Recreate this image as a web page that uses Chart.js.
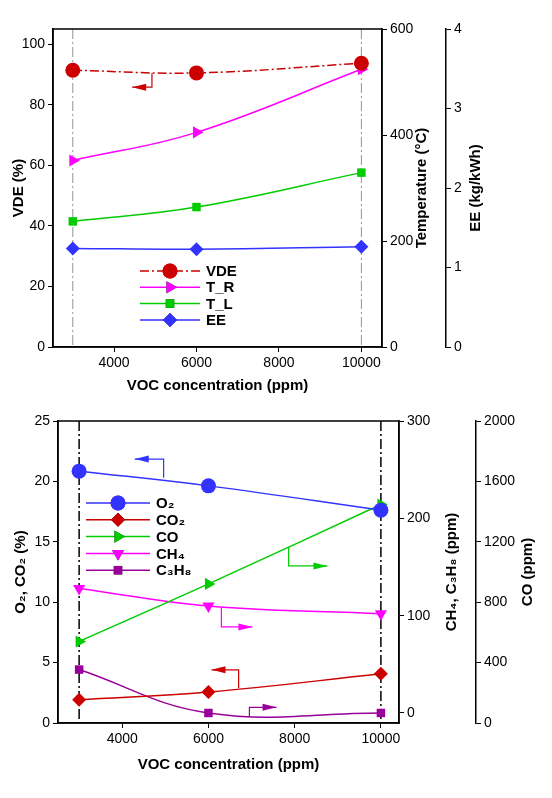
<!DOCTYPE html>
<html>
<head>
<meta charset="utf-8">
<script src="https://cdn.jsdelivr.net/npm/chart.js@4"></script>
<style>
  body { margin: 0; background: #fff; }
  .panel { position: absolute; left: 0; width: 552px; }
</style>
</head>
<body>
<div class="panel" style="top:0;height:405px"><canvas id="top"></canvas></div>
<div class="panel" style="top:405px;height:393px"><canvas id="bottom"></canvas></div>
<script>
// VOC concentration (ppm)
const vocPpm = [3000, 6000, 10000];
const xTicks = [4000, 6000, 8000, 10000];

// top panel
const vde = [91.4, 90.5, 93.7];     // %
const tR = [352, 405, 524];         // °C
const tL = [237, 264, 329];         // °C
const ee = [1.24, 1.23, 1.26];      // kg/kWh

// bottom panel
const o2 = [20.85, 19.63, 17.62];   // %
const co2 = [1.93, 2.56, 4.07];     // %
const co = [540, 921, 1447];        // ppm
const ch4 = [128, 110, 102];        // ppm
const c3h8 = [44.6, 0, 0];          // ppm

const FONT = "'Liberation Sans', Arial, sans-serif";
Chart.defaults.font.family = FONT;
Chart.defaults.color = "#000";

const pts = vals => vals.map((v, i) => ({ x: vocPpm[i], y: v }));

function series(label, vals, color, axis, style, extra) {
  return Object.assign({
    label, data: pts(vals), yAxisID: axis,
    borderColor: color, backgroundColor: color,
    borderWidth: 1.5, tension: 0.4,
    pointStyle: style, pointRadius: 7, pointBorderWidth: 0,
  }, extra || {});
}

function fixTicks(list) {
  return scale => { scale.ticks = list.map(v => ({ value: v })); };
}

function yAxis(pos, min, max, ticks, width) {
  return {
    type: "linear", position: pos, min, max,
    afterBuildTicks: fixTicks(ticks),
    afterFit: s => { s.width = width; },
    grid: { drawOnChartArea: false, color: "#000", tickLength: 5 },
    border: { color: "#000", width: 1.5 },
    ticks: { font: { size: 14 }, padding: 3, callback: v => String(v) },
  };
}

function xAxis(min, max, height) {
  return {
    type: "linear", min, max,
    afterBuildTicks: fixTicks(xTicks),
    afterFit: s => { s.height = height; },
    grid: { drawOnChartArea: false, color: "#000", tickLength: 5 },
    border: { color: "#000", width: 1.5 },
    ticks: { font: { size: 14 }, maxRotation: 0, callback: v => String(v) },
    title: { display: true, text: "VOC concentration (ppm)", font: { size: 15, weight: "bold" }, padding: { top: 12 } },
  };
}

// box, guide lines, arrows, axis titles and legend drawn on top of the chart
const decor = {
  id: "decor",
  beforeDatasetsDraw(chart, args, opts) {
    const { ctx, chartArea: a, scales } = chart;
    ctx.save();
    ctx.strokeStyle = opts.guideColor;
    ctx.lineWidth = opts.guideWidth;
    ctx.setLineDash([10, 3, 2, 3]);
    vocPpm.filter(v => v !== 6000).forEach(v => {
      const x = scales.x.getPixelForValue(v);
      ctx.beginPath(); ctx.moveTo(x, a.top); ctx.lineTo(x, a.bottom); ctx.stroke();
    });
    ctx.restore();
  },
  afterDraw(chart, args, opts) {
    const { ctx, chartArea: a, scales } = chart;
    ctx.save();
    ctx.strokeStyle = "#000"; ctx.lineWidth = 1.5;
    ctx.strokeRect(a.left, a.top, a.right - a.left, a.bottom - a.top);

    // vertical axis titles, read bottom to top
    ctx.fillStyle = "#000";
    ctx.font = "bold 15px " + FONT;
    ctx.textAlign = "center"; ctx.textBaseline = "middle";
    opts.titles.forEach(t => {
      ctx.save();
      ctx.translate(t.x, (a.top + a.bottom) / 2);
      ctx.rotate(-Math.PI / 2);
      ctx.fillText(t.text, 0, 0);
      ctx.restore();
    });
    ctx.textAlign = "left";

    opts.arrows.forEach(ar => {
      const p = ar.path.map(([x, y]) => [scales.x.getPixelForValue(x), scales[ar.axis].getPixelForValue(y)]);
      ctx.strokeStyle = ar.color; ctx.fillStyle = ar.color; ctx.lineWidth = 1.2;
      ctx.beginPath(); ctx.moveTo(p[0][0], p[0][1]);
      p.slice(1).forEach(q => ctx.lineTo(q[0], q[1]));
      ctx.stroke();
      const [ex, ey] = p[p.length - 1], [sx] = p[p.length - 2];
      const d = ex < sx ? 1 : -1;
      ctx.beginPath(); ctx.moveTo(ex, ey);
      ctx.lineTo(ex + d * 14, ey - 3.5); ctx.lineTo(ex + d * 14, ey + 3.5);
      ctx.closePath(); ctx.fill();
    });

    const L = opts.legend;
    chart.data.datasets.forEach((ds, i) => {
      const y = L.y + i * L.gap;
      ctx.strokeStyle = ds.borderColor; ctx.lineWidth = 1.5;
      ctx.setLineDash(ds.borderDash || []);
      ctx.beginPath(); ctx.moveTo(L.x, y); ctx.lineTo(L.x + L.len, y); ctx.stroke();
      ctx.setLineDash([]);
      Chart.helpers.drawPoint(ctx, {
        pointStyle: ds.pointStyle, rotation: ds.rotation || 0,
        radius: ds.pointRadius, borderWidth: 0,
      }, L.x + L.len / 2, y);
      ctx.fillStyle = ds.borderColor;
      ctx.fill();
      ctx.fillStyle = "#000";
      ctx.font = "bold 15px " + FONT;
      ctx.textBaseline = "middle";
      ctx.fillText(ds.label, L.x + L.len + 6, y + 1);
    });
    ctx.restore();
  }
};

new Chart(document.getElementById("top"), {
  type: "line",
  data: {
    datasets: [
      series("VDE", vde, "#cc0000", "y", "circle", { borderDash: [9, 3, 2, 3], pointRadius: 7.5 }),
      series("T_R", tR, "#ff00ff", "y2", "triangle", { rotation: 90 }),
      series("T_L", tL, "#00cc00", "y2", "rect", { pointRadius: 6 }),
      series("EE", ee, "#3333ff", "y3", "rectRot"),
    ]
  },
  options: {
    responsive: true, maintainAspectRatio: false, animation: false,
    layout: { padding: { left: 8, right: 56, top: 29, bottom: 6 } },
    plugins: {
      legend: { display: false }, tooltip: { enabled: false },
      decor: {
        guideColor: "#777", guideWidth: 0.8,
        legend: { x: 140, y: 271, gap: 16.3, len: 60 },
        titles: [
          { x: 19, text: "VDE (%)" },
          { x: 422, text: "Temperature (°C)" },
          { x: 476, text: "EE (kg/kWh)" },
        ],
        arrows: [{ axis: "y", color: "#cc0000", path: [[4920, 90.4], [4920, 85.8], [4440, 85.8]] }],
      },
    },
    scales: {
      x: xAxis(2520, 10500, 52),
      y: yAxis("left", 0, 105, [0, 20, 40, 60, 80, 100], 45),
      y2: yAxis("right", 0, 600, [0, 200, 400, 600], 64),
      y3: yAxis("right", 0, 4, [0, 1, 2, 3, 4], 50),
    }
  },
  plugins: [decor]
});

new Chart(document.getElementById("bottom"), {
  type: "line",
  data: {
    datasets: [
      series("O₂", o2, "#3333ff", "y", "circle", { pointRadius: 7.5 }),
      series("CO₂", co2, "#cc0000", "y", "rectRot"),
      series("CO", co, "#00cc00", "y3", "triangle", { rotation: 90 }),
      series("CH₄", ch4, "#ff00ff", "y2", "triangle", { rotation: 180 }),
      series("C₃H₈", c3h8, "#990099", "y2", "rect", { pointRadius: 6 }),
    ]
  },
  options: {
    responsive: true, maintainAspectRatio: false, animation: false,
    layout: { padding: { left: 8, right: 16, top: 16, bottom: 20 } },
    plugins: {
      legend: { display: false }, tooltip: { enabled: false },
      decor: {
        guideColor: "#000", guideWidth: 1.5,
        legend: { x: 86, y: 98, gap: 16.8, len: 64 },
        titles: [
          { x: 21, text: "O₂, CO₂ (%)" },
          { x: 452, text: "CH₄, C₃H₈ (ppm)" },
          { x: 528, text: "CO (ppm)" },
        ],
        arrows: [
          { axis: "y", color: "#3333ff", path: [[4960, 20.3], [4960, 21.85], [4290, 21.85]] },
          { axis: "y", color: "#00cc00", path: [[7860, 14.6], [7860, 13.0], [8760, 13.0]] },
          { axis: "y", color: "#ff00ff", path: [[6300, 9.6], [6300, 7.95], [7020, 7.95]] },
          { axis: "y", color: "#cc0000", path: [[6700, 2.9], [6700, 4.4], [6070, 4.4]] },
          { axis: "y", color: "#990099", path: [[6950, 0.5], [6950, 1.3], [7580, 1.3]] },
        ],
      },
    },
    scales: {
      x: xAxis(2510, 10420, 55),
      y: yAxis("left", 0, 25, [0, 5, 10, 15, 20, 25], 50),
      y2: yAxis("right", -10.3, 300, [0, 100, 200, 300], 77),
      y3: yAxis("right", 0, 2000, [0, 400, 800, 1200, 1600, 2000], 60),
    }
  },
  plugins: [decor]
});
</script>
</body>
</html>
